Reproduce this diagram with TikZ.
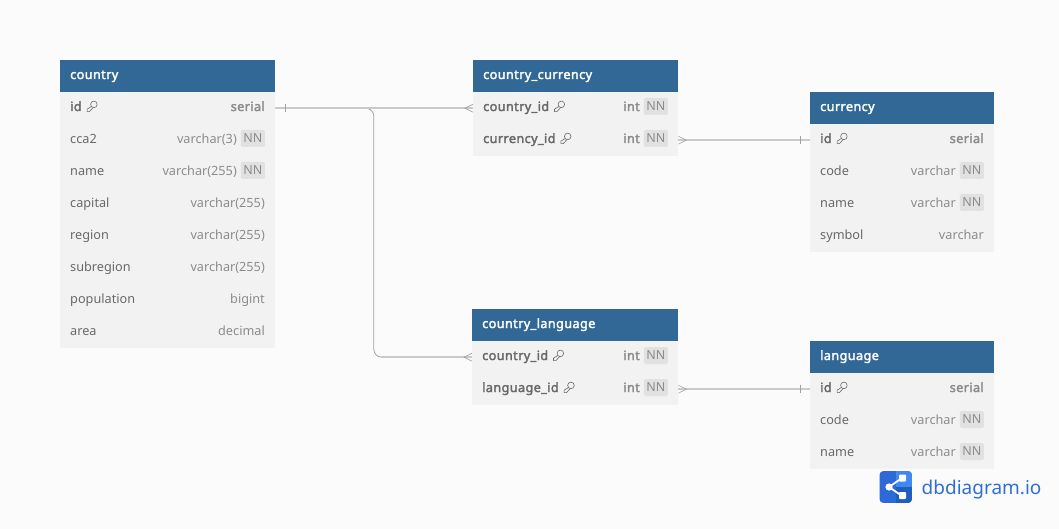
\documentclass[tikz,border=0pt]{standalone}
\usepackage{fontspec}
\setmainfont[BoldFont={Noto Sans},BoldFeatures={FakeBold=2.4,LetterSpace=3}]{Noto Sans}
\usetikzlibrary{calc}
\definecolor{pagebg}{HTML}{FBFBFB}
\definecolor{headblue}{HTML}{316895}
\definecolor{rowbg}{HTML}{F2F2F2}
\definecolor{nametxt}{HTML}{696969}
\definecolor{typetxt}{HTML}{8C8C8C}
\definecolor{badgebg}{HTML}{E1E1E1}
\definecolor{linelight}{HTML}{C9C9CE}
\definecolor{linedark}{HTML}{A0A0A6}
\definecolor{logoA}{HTML}{2B6AD8}
\definecolor{logoB}{HTML}{4088F2}
\definecolor{logoC}{HTML}{1F5DBE}
\definecolor{logotxt}{HTML}{2F6FD0}
\tikzset{
  x=1pt,y=-1pt,
  headbox/.style={fill=headblue,inner sep=0,anchor=north west,minimum height=32pt},
  rowbox/.style={fill=rowbg,inner sep=0,anchor=north west,minimum height=32pt},
  headtxt/.style={text=white,font=\fontsize{12.7}{13}\selectfont\bfseries,anchor=base west,inner sep=0},
  nametx/.style={text=nametxt,font=\fontsize{12.7}{13}\selectfont,anchor=base west,inner sep=0},
  pknametx/.style={text=nametxt,font=\fontsize{12.7}{13}\selectfont\bfseries,anchor=base west,inner sep=0},
  typetx/.style={text=typetxt,font=\fontsize{12.7}{13}\selectfont,anchor=base east,inner sep=0},
  pktypetx/.style={text=typetxt,font=\fontsize{12.7}{13}\selectfont\bfseries,anchor=base east,inner sep=0},
  nnbadge/.style={fill=badgebg,text=typetxt,rounded corners=1.5pt,font=\fontsize{12.5}{13}\selectfont,inner sep=0,minimum width=24pt,minimum height=17pt,anchor=east},
  relline/.style={draw=linelight,line width=1.5pt},
  thinline/.style={draw=linedark,line width=0.8pt},
  endmark/.style={draw=linedark,line width=0.6pt},
  keyicon/.style={draw=nametxt,line width=0.6pt,line cap=round,line join=round}
}
\newcommand{\tablehead}[5]{%
  \node[headbox,minimum width=#4pt] (#1) at (#2,#3) {};
  \node[headtxt] at (#2+10,#3+19) {#5};
}
\newcommand{\rowcell}[8]{%
  \node[rowbox,minimum width=#4pt] (#1) at (#2,#3) {};
  \ifnum#8=1
    \node[pknametx] (#1-n) at (#2+10,#3+19) {#5};
    \coordinate (#1-k) at ($(#1-n.base east)+(5,0)$);
    \draw[keyicon] ($(#1-k)+(7,-6.6)$) circle (3.3pt);
    \draw[keyicon] ($(#1-k)+(4.5,-4.5)$) -- ($(#1-k)+(0.2,-1.8)$) -- ($(#1-k)+(0.2,0.6)$) -- ($(#1-k)+(2.6,0.6)$) -- ($(#1-k)+(6.2,-3.4)$);
  \else
    \node[nametx] (#1-n) at (#2+10,#3+19.4) {#5};
  \fi
  \ifnum#7=1
    \node[nnbadge] (#1-b) at ($(#2+#4,#3+14.5)+(-10,0)$) {NN};
    \ifnum#8=1
      \node[pktypetx] at ($(#2+#4,#3+19)+(-38,0)$) {#6};
    \else
      \node[typetx] at ($(#2+#4,#3+19.4)+(-38,0)$) {#6};
    \fi
  \else
    \ifnum#8=1
      \node[pktypetx] at ($(#2+#4,#3+19)+(-10,0)$) {#6};
    \else
      \node[typetx] at ($(#2+#4,#3+19.4)+(-10,0)$) {#6};
    \fi
  \fi
}
\begin{document}
\begin{tikzpicture}
\useasboundingbox (0,0) rectangle (1059,529);
\fill[pagebg] (0,0) rectangle (1059,529);

\tablehead{country}{60}{60}{215}{country}
\rowcell{cid}{60}{92}{215}{id}{serial}{0}{1}
\rowcell{ccca}{60}{124}{215}{cca2}{varchar(3)}{1}{0}
\rowcell{cname}{60}{156}{215}{name}{varchar(255)}{1}{0}
\rowcell{ccap}{60}{188}{215}{capital}{varchar(255)}{0}{0}
\rowcell{creg}{60}{220}{215}{region}{varchar(255)}{0}{0}
\rowcell{csub}{60}{252}{215}{subregion}{varchar(255)}{0}{0}
\rowcell{cpop}{60}{284}{215}{population}{bigint}{0}{0}
\rowcell{care}{60}{316}{215}{area}{decimal}{0}{0}

\tablehead{cc}{473}{60}{205}{country\_currency}
\rowcell{cccid}{473}{92}{205}{country\_id}{int}{1}{1}
\rowcell{cccur}{473}{124}{205}{currency\_id}{int}{1}{1}

\tablehead{cur}{810}{92}{184}{currency}
\rowcell{curid}{810}{124}{184}{id}{serial}{0}{1}
\rowcell{curcode}{810}{156}{184}{code}{varchar}{1}{0}
\rowcell{curname}{810}{188}{184}{name}{varchar}{1}{0}
\rowcell{cursym}{810}{220}{184}{symbol}{varchar}{0}{0}

\tablehead{cl}{472}{309}{206}{country\_language}
\rowcell{clcid}{472}{341}{206}{country\_id}{int}{1}{1}
\rowcell{cllan}{472}{373}{206}{language\_id}{int}{1}{1}

\tablehead{lan}{810}{341}{184}{language}
\rowcell{lanid}{810}{373}{184}{id}{serial}{0}{1}
\rowcell{lancode}{810}{405}{184}{code}{varchar}{1}{0}
\rowcell{lanname}{810}{437}{184}{name}{varchar}{1}{0}

% connectors
\coordinate (elbowA) at ($(cid.east)+(98.4,0)$);
\draw[thinline,rounded corners=8pt] ($(elbowA)+(-14,0)$) -- (elbowA) -- (elbowA |- clcid.west) -- ($(elbowA |- clcid.west)+(14,0)$);
\draw[relline] ($(elbowA |- clcid.west)+(8,0)$) -- (clcid.west);
\draw[relline] (cid.east) -- (cccid.west);
\draw[relline] (cccur.east) -- (curid.west);
\draw[relline] (cllan.east) -- (lanid.west);

\draw[endmark] ($(cid.east)+(10,-4)$) -- +(0,8);
\draw[endmark] ($(curid.west)+(-10,-4)$) -- +(0,8);
\draw[endmark] ($(lanid.west)+(-10,-4)$) -- +(0,8);
\draw[endmark] ($(cccid.west)+(0,-4)$) -- ++(-8,4) -- ++(8,4);
\draw[endmark] ($(clcid.west)+(0,-4)$) -- ++(-8,4) -- ++(8,4);
\draw[endmark] ($(cccur.east)+(0,-4)$) -- ++(8,4) -- ++(-8,4);
\draw[endmark] ($(cllan.east)+(0,-4)$) -- ++(8,4) -- ++(-8,4);

% logo
\begin{scope}
\path[clip,rounded corners=4pt] (879.5,471) rectangle (912,503);
\fill[logoA] (879,471) rectangle (912,503);
\fill[logoB] (896,471) rectangle (912,487);
\fill[logoC] (896,487) rectangle (912,503);
\end{scope}
\draw[white,line width=1.8pt] (902,478) -- (889,487) -- (902,496);
\fill[white] (889,487) circle (3.6pt);
\fill[white,rounded corners=0.8pt] (899,474.5) rectangle (906,481.5);
\fill[white,rounded corners=0.8pt] (899,492) rectangle (906,499);
\node[text=logotxt,font=\fontsize{19}{20}\selectfont,anchor=base west,inner sep=0] (logotext) at (921.5,494) {dbdiagram.io};
\end{tikzpicture}
\end{document}
